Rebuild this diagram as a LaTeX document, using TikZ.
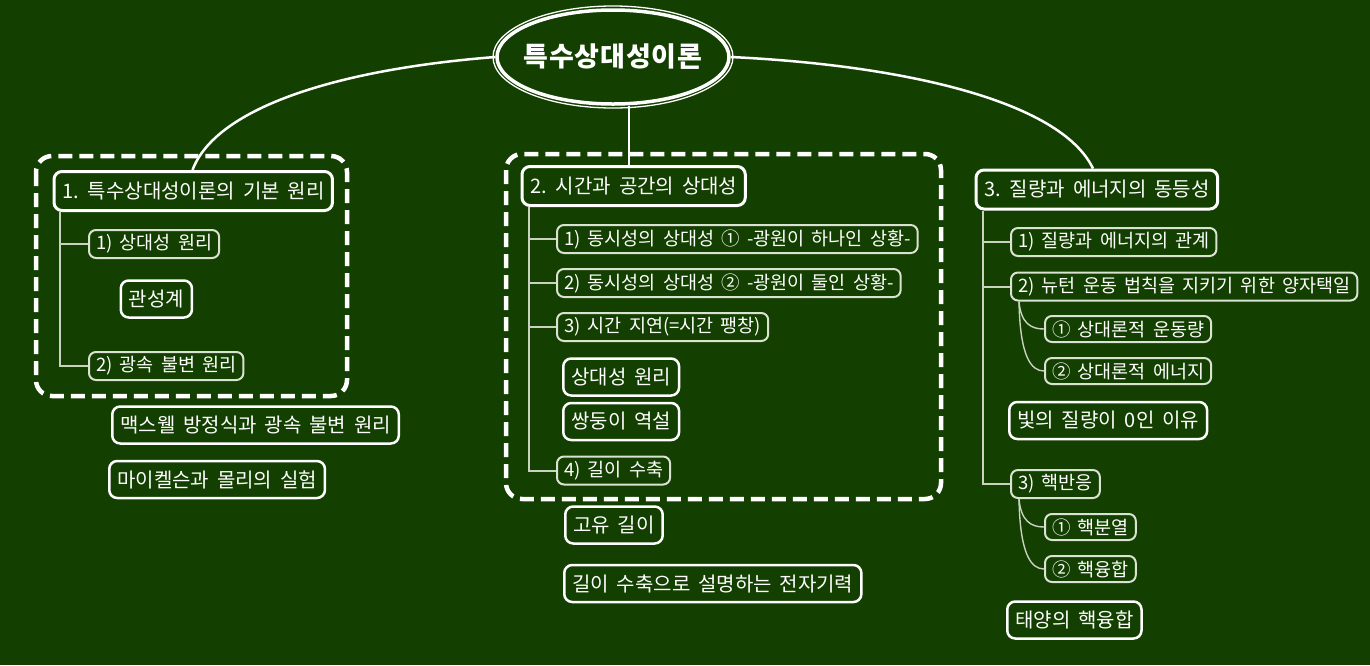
\documentclass[tikz,border=0pt]{standalone}
\usepackage{fontspec}
\setmainfont{Noto Sans CJK KR}[WordSpace=1.75]
\usetikzlibrary{shapes.geometric}
\definecolor{bg}{RGB}{19,63,0}
\definecolor{subedge}{RGB}{218,226,210}
\definecolor{subline}{RGB}{200,210,190}
\begin{document}
\begin{tikzpicture}[x=1pt,y=-1pt,
  root/.style={ellipse,draw=white,line width=3.5pt,minimum width=232pt,minimum height=94pt,inner sep=0pt},
  rootlabel/.style={inner sep=0pt,text=white,font=\fontsize{27}{30}\selectfont\bfseries\addfontfeature{LetterSpace=3}},
  head/.style={draw=white,line width=3pt,rounded corners=8pt,minimum height=39pt,inner xsep=8pt,inner ysep=0pt,text=white,anchor=west,font=\fontsize{20}{22}\selectfont},
  leaf/.style={draw=white,line width=2.5pt,rounded corners=8pt,minimum height=37pt,inner xsep=8pt,inner ysep=0pt,text=white,anchor=west,font=\fontsize{20}{22}\selectfont},
  sub/.style={draw=subedge,line width=2pt,rounded corners=7pt,minimum height=28pt,inner xsep=7pt,inner ysep=0pt,text=white,anchor=west,font=\fontsize{18.5}{20}\selectfont},
  subb/.style={sub,minimum height=26pt},
  mainline/.style={draw=white,line width=2.5pt},
  branch/.style={draw=subline,line width=2pt},
  twig/.style={draw=subline,line width=1.4pt},
  cloud/.style={draw=white,line width=4.5pt,rounded corners=16pt,dash pattern=on 14pt off 7pt}
]
\useasboundingbox (0,0) rectangle (1370,665);
\fill[bg] (0,0) rectangle (1370,665);

% dashed group outlines
\draw[cloud] (36,156) rectangle (347,396);
\draw[cloud] (506,154) rectangle (941,499);

% root
\node[root,label={[rootlabel]center:특수상대성이론}] (root) at (613,57) {};
\draw[white,line width=1.3pt] (root.center) ellipse [x radius=120, y radius=51];

% headings
\node[head] (b1) at (52.5,191) {1. 특수상대성이론의 기본 원리};
\node[head] (b2) at (520.5,186) {2. 시간과 공간의 상대성};
\node[head] (b3) at (974.5,189.5) {3. 질량과 에너지의 동등성};

% group 1
\node[sub] (s11) at (88,244) {1) 상대성 원리};
\node[leaf] (l11) at (119.5,299) {관성계};
\node[sub] (s12) at (88,366) {2) 광속 불변 원리};
\node[leaf] (l12) at (111,425) {맥스웰 방정식과 광속 불변 원리};
\node[leaf] (l13) at (108,479.5) {마이켈슨과 몰리의 실험};

% group 2
\node[sub] (s21) at (556,239) {1) 동시성의 상대성 ① -광원이 하나인 상황-};
\node[sub] (s22) at (556,283) {2) 동시성의 상대성 ② -광원이 둘인 상황-};
\node[sub] (s23) at (556,327) {3) 시간 지연(=시간 팽창)};
\node[leaf] (l21) at (562,377) {상대성 원리};
\node[leaf] (l22) at (562,421.5) {쌍둥이 역설};
\node[sub] (s24) at (556,470.5) {4) 길이 수축};
\node[leaf] (l23) at (564,525) {고유 길이};
\node[leaf] (l24) at (563,583.5) {길이 수축으로 설명하는 전자기력};

% group 3
\node[sub] (s31) at (1010,242) {1) 질량과 에너지의 관계};
\node[sub] (s32) at (1010,286.5) {2) 뉴턴 운동 법칙을 지키기 위한 양자택일};
\node[subb] (s321) at (1044,329) {① 상대론적 운동량};
\node[subb] (s322) at (1044,371) {② 상대론적 에너지};
\node[leaf] (l31) at (1008,420.5) {빛의 질량이 0인 이유};
\node[sub] (s33) at (1010,484) {3) 핵반응};
\node[subb] (s331) at (1044,527) {① 핵분열};
\node[subb] (s332) at (1044,569) {② 핵융합};
\node[leaf] (l32) at (1006,620) {태양의 핵융합};

% main connectors
\draw[mainline] (root.west) .. controls (330,70) and (215,110) .. ([xshift=140pt]b1.north west);
\draw[mainline] ([xshift=16pt]root.south) -- ([xshift=16pt]root.south |- b2.north);
\draw[mainline] (root.east) .. controls (900,65) and (1060,100) .. ([xshift=118.5pt]b3.north west);

% branches
\draw[branch] ([xshift=7.5pt]b1.south west) |- (s11.west);
\draw[branch] ([xshift=7.5pt]b1.south west) |- (s12.west);
\draw[branch] ([xshift=8.5pt]b2.south west) |- (s21.west);
\draw[branch] ([xshift=8.5pt]b2.south west) |- (s22.west);
\draw[branch] ([xshift=8.5pt]b2.south west) |- (s23.west);
\draw[branch] ([xshift=8.5pt]b2.south west) |- (s24.west);
\draw[branch] ([xshift=8.5pt]b3.south west) |- (s31.west);
\draw[branch] ([xshift=8.5pt]b3.south west) |- (s32.west);
\draw[branch] ([xshift=8.5pt]b3.south west) |- (s33.west);

% twigs
\draw[twig] ([xshift=9pt]s32.south west) .. controls +(2,22) and +(-13,0) .. (s321.west);
\draw[twig] ([xshift=9pt]s32.south west) .. controls +(1,55) and +(-13,0) .. (s322.west);
\draw[twig] ([xshift=9pt]s33.south west) .. controls +(2,22) and +(-13,0) .. (s331.west);
\draw[twig] ([xshift=9pt]s33.south west) .. controls +(1,55) and +(-13,0) .. (s332.west);
\end{tikzpicture}
\end{document}
